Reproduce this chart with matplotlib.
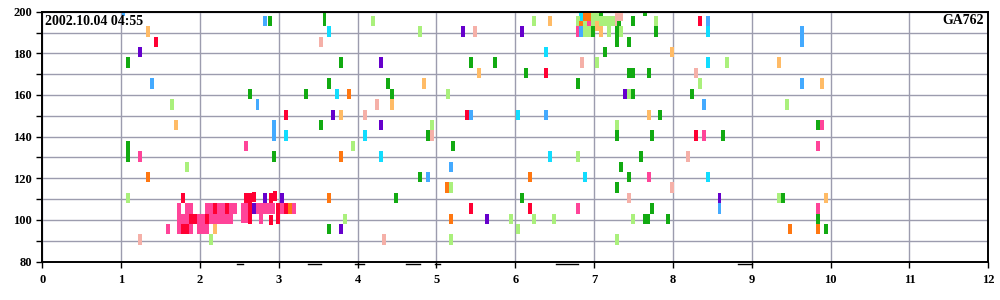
import numpy as np
import matplotlib
matplotlib.use('Agg')
import matplotlib.pyplot as plt
from matplotlib.ticker import MultipleLocator

STAMP = '2002.10.04 04:55'
FLIGHT = 'GA762'

# (x, y-centre) of each detection, grouped by colour class
GREEN = [(1.09, 175.5), (1.09, 135.5), (1.09, 130.5), (2.63, 160.5), (2.89, 195.5),
         (3.58, 200.5), (3.58, 195.5), (3.79, 175.5), (3.64, 165.5), (3.35, 160.5),
         (3.54, 145.5), (2.94, 130.5), (3.64, 95.5), (6.99, 190.5), (7.09, 198.5),
         (7.49, 195.5), (7.65, 200.5), (7.79, 190.5), (7.29, 190.5), (7.29, 185.5),
         (7.44, 185.5), (7.14, 180.5), (5.44, 175.5), (5.74, 175.5), (6.14, 170.5),
         (7.44, 170.5), (7.49, 170.5), (7.70, 170.5), (4.39, 165.5), (6.80, 165.5),
         (4.44, 160.5), (7.49, 160.5), (7.84, 150.5), (4.89, 140.5), (7.29, 140.5),
         (7.74, 140.5), (5.21, 135.5), (7.32, 193.0), (8.24, 160.5), (9.84, 145.5),
         (8.64, 140.5), (7.59, 130.5), (7.34, 125.5), (4.79, 120.5), (7.44, 120.5),
         (7.29, 115.5), (4.49, 110.5), (6.09, 110.5), (7.74, 105.5), (7.64, 100.5),
         (7.69, 100.5), (7.94, 100.5), (9.40, 110.5), (9.84, 100.5), (9.94, 95.5)]
LIGHTGREEN = [(1.65, 155.5), (1.84, 125.5), (1.09, 110.5), (2.14, 90.5), (4.20, 195.5),
              (4.79, 190.5), (6.24, 195.5), (6.80, 195.5), (7.79, 195.5), (7.19, 190.5),
              (7.34, 190.5), (7.04, 175.5), (5.15, 160.5), (7.44, 160.5), (4.94, 145.5),
              (7.29, 145.5), (3.94, 135.5), (8.69, 175.5), (8.34, 165.5), (9.45, 155.5),
              (6.80, 130.5), (5.19, 115.5), (3.84, 100.5), (5.94, 100.5), (6.24, 100.5),
              (6.49, 100.5), (7.49, 100.5), (6.04, 95.5), (5.19, 90.5), (7.29, 90.5),
              (9.35, 110.5), (6.88, 193.0), (6.88, 190.5), (6.93, 190.5), (6.99, 195.5),
              (7.04, 195.5), (7.09, 195.5), (7.14, 195.5), (7.19, 195.5), (7.24, 195.5),
              (6.99, 200.5), (7.04, 200.5)]
RED = [(1.44, 185.5), (3.09, 150.5), (5.39, 150.5), (6.39, 170.5), (8.34, 195.5),
       (8.29, 140.5), (5.44, 105.5), (6.19, 105.5), (1.79, 110.5), (2.58, 110.5),
       (2.63, 110.5), (2.68, 111.0), (2.90, 110.5), (2.95, 111.5), (2.19, 105.5),
       (2.34, 105.5), (2.63, 105.5), (2.99, 105.5), (3.09, 105.5), (1.89, 100.5),
       (1.94, 100.5), (2.09, 100.5), (2.64, 100.5), (2.90, 100.0), (2.99, 100.5),
       (1.79, 95.5), (1.84, 95.5)]
PINK = [(2.58, 135.5), (1.24, 130.5), (7.70, 120.5), (6.80, 105.5), (9.89, 145.5),
        (8.39, 140.5), (9.84, 135.5), (9.84, 105.5), (6.79, 190.5), (6.93, 193.0),
        (1.73, 105.5), (1.84, 105.5), (1.89, 105.5), (2.09, 105.5), (2.14, 105.5),
        (2.24, 105.5), (2.29, 105.5), (2.39, 105.5), (2.44, 105.5), (2.55, 105.5),
        (2.58, 105.5), (2.73, 105.5), (2.78, 105.5), (2.83, 105.5), (2.88, 105.5),
        (2.93, 105.5), (3.04, 105.5), (3.19, 105.5), (1.73, 100.5), (1.78, 100.5),
        (1.84, 100.5), (1.99, 100.5), (2.04, 100.5), (2.14, 100.5), (2.19, 100.5),
        (2.24, 100.5), (2.29, 100.5), (2.34, 100.5), (2.39, 100.5), (2.55, 101.0),
        (2.59, 101.0), (2.78, 100.5), (1.60, 95.5), (1.73, 95.5), (1.89, 95.5),
        (1.99, 95.5), (2.04, 95.5), (2.09, 95.5)]
PURPLE = [(1.24, 180.5), (3.69, 150.5), (5.34, 190.5), (6.09, 190.5), (4.30, 175.5),
          (7.39, 160.5), (4.30, 145.5), (3.79, 95.5), (5.64, 100.5), (8.59, 110.5),
          (2.68, 105.5), (2.83, 110.5), (3.04, 110.5)]
BLUE = [(1.03, 200.5), (1.39, 165.5), (2.83, 195.5), (2.73, 155.5), (2.94, 145.5),
        (2.94, 140.5), (5.44, 150.5), (6.39, 150.5), (8.44, 195.5), (9.64, 190.5),
        (9.64, 185.5), (9.64, 165.5), (8.39, 155.5), (5.19, 125.5), (4.89, 120.5),
        (8.59, 105.5), (6.83, 190.5)]
CYAN = [(3.64, 190.5), (3.74, 160.5), (3.09, 140.5), (6.39, 180.5), (6.04, 150.5),
        (4.09, 140.5), (8.44, 190.5), (8.44, 175.5), (4.30, 130.5), (6.44, 130.5),
        (6.88, 120.5), (8.44, 120.5), (6.83, 198.0)]
ORANGE = [(3.89, 160.5), (1.34, 120.5), (3.64, 110.5), (3.79, 130.5), (6.19, 120.5),
          (5.13, 115.5), (5.19, 100.5), (9.84, 95.5), (9.48, 95.5), (3.14, 105.5),
          (6.88, 198.0), (6.93, 198.0), (6.83, 193.0)]
LIGHTORANGE = [(1.34, 190.5), (1.70, 145.5), (3.79, 150.5), (6.44, 195.5), (7.09, 190.5),
               (5.54, 170.5), (4.84, 165.5), (4.44, 155.5), (7.70, 150.5), (7.99, 180.5),
               (9.35, 175.5), (9.89, 165.5), (9.94, 110.5), (2.19, 95.5), (7.04, 193.0)]
SALMON = [(3.54, 185.5), (5.49, 190.5), (6.85, 175.5), (4.25, 155.5), (4.09, 150.5),
          (4.94, 140.5), (8.29, 170.5), (1.24, 90.5), (4.34, 90.5), (7.44, 110.5),
          (8.19, 130.5), (7.99, 115.5), (7.29, 198.0), (7.29, 195.5), (7.34, 198.0)]

# short dashes just under the time axis (start, end)
DASHES = [(2.47, 2.54), (3.37, 3.53), (3.97, 4.08), (4.61, 4.79), (4.98, 5.04),
          (6.52, 6.79), (8.82, 9.00)]

groups = [(GREEN, '#12aa12'), (LIGHTGREEN, '#aaf07c'), (RED, '#ff0033'),
          (PINK, '#ff4499'), (PURPLE, '#6600cc'), (BLUE, '#44aaff'),
          (CYAN, '#11ddff'), (ORANGE, '#ff7711'), (LIGHTORANGE, '#ffbb66'),
          (SALMON, '#f5b0a8')]

xs, ys, cs = [], [], []
for pts, col in groups:
    for x, y in pts:
        xs.append(x); ys.append(y); cs.append(col)
xs = np.array(xs); ys = np.array(ys); cs = np.array(cs)
order = np.argsort(-ys, kind='stable')   # lower bins drawn on top

fig = plt.figure(figsize=(10, 3), dpi=100)
ax = fig.add_axes([0.0423, 0.1283, 0.946, 0.8327])

ax.bar(xs[order], 5, bottom=ys[order] - 2.5, width=0.05, color=cs[order],
       linewidth=0, zorder=2)

for x0, x1 in DASHES:
    ax.plot([x0, x1], [78.6, 78.6], color='black', lw=1, clip_on=False, zorder=3)

ax.set_xlim(0, 12)
ax.set_ylim(80, 200)
ax.xaxis.set_major_locator(MultipleLocator(1))
ax.yaxis.set_major_locator(MultipleLocator(20))
ax.yaxis.set_minor_locator(MultipleLocator(10))
ax.grid(True, which='both', color='#9c9cae', lw=1.0, zorder=0)
ax.set_axisbelow(True)
ax.tick_params(which='both', direction='out', length=4, width=1, color='black')
ax.tick_params(axis='x', pad=5)
for sp in ax.spines.values():
    sp.set_linewidth(1.4)
    sp.set_color('black')
for lab in ax.get_xticklabels() + ax.get_yticklabels():
    lab.set_fontfamily('Liberation Serif')
    lab.set_fontweight('bold')
    lab.set_fontsize(9)

ax.text(0.003, 0.947, STAMP, transform=ax.transAxes, ha='left', va='baseline',
        fontsize=10, fontweight='bold', family='Liberation Serif')
ax.text(0.9955, 0.949, FLIGHT, transform=ax.transAxes, ha='right', va='baseline',
        fontsize=10, fontweight='bold', family='Liberation Serif')

plt.savefig('out.png', dpi=100)
